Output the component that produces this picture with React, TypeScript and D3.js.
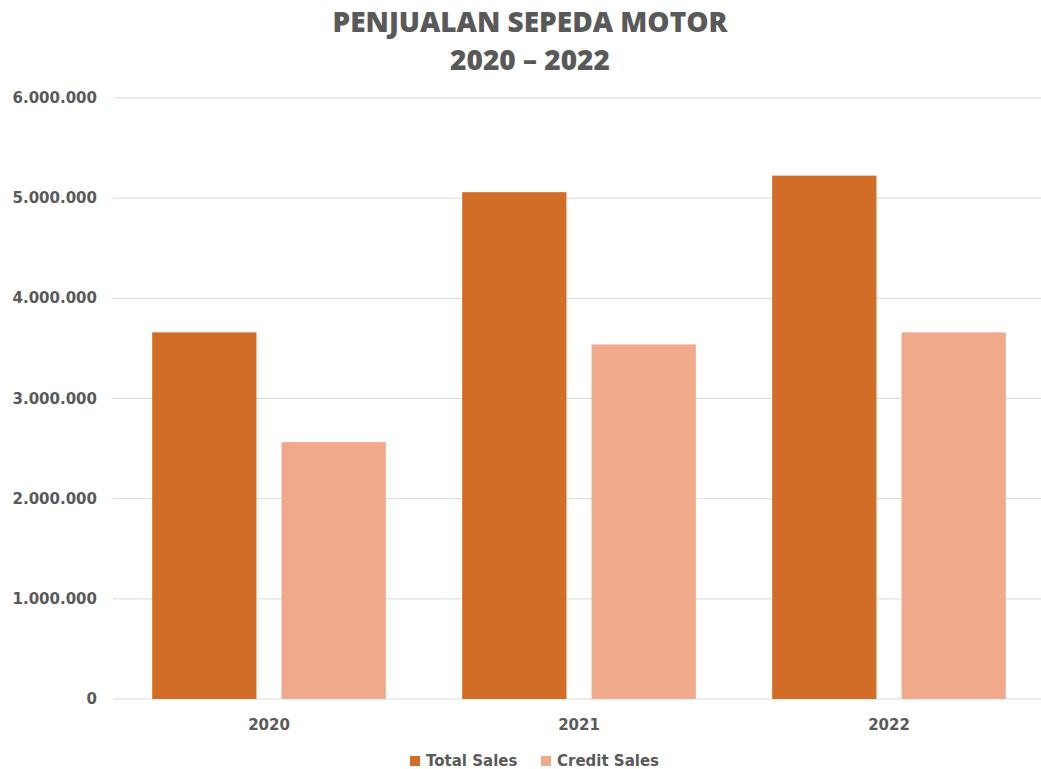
import React from "react";
import * as d3 from "d3";

const categories = ["2020", "2021", "2022"];
const seriesNames = ["Total Sales", "Credit Sales"];
const totalSales = [3660000, 5060000, 5225000];
const creditSales = [2565000, 3540000, 3660000];
const yTicks = [0, 1000000, 2000000, 3000000, 4000000, 5000000, 6000000];
const colors = ["#D26D28", "#F0A98B"];

const W = 1041;
const H = 769;
const margin = { left: 114, right: -3, top: 98, bottom: 70 };
const titleFont = "'Open Sans', 'DejaVu Sans', sans-serif";
const font = "'DejaVu Sans', sans-serif";
const textColor = "#595959";

export default function App() {
  const x0 = d3
    .scaleBand<string>()
    .domain(categories)
    .range([margin.left, W - margin.right])
    .paddingInner(0)
    .paddingOuter(0);
  const inner = d3
    .scaleBand<string>()
    .domain(seriesNames)
    .range([0, x0.bandwidth()])
    .paddingInner(0.194)
    .paddingOuter(0.295);
  const y = d3.scaleLinear().domain([0, 6000000]).range([H - margin.bottom, margin.top]);
  const fmt = (v: number) => d3.format(",")(v).replace(/,/g, ".");
  const data = [totalSales, creditSales];

  return (
    <svg width={W} height={H} style={{ position: "absolute", left: 0, top: 0, background: "#fff" }}>
      <text x={530} y={32} textAnchor="middle" fontFamily={titleFont} fontWeight={800} fontSize={28} fill={textColor}>
        PENJUALAN SEPEDA MOTOR
      </text>
      <text x={530} y={70} textAnchor="middle" fontFamily={titleFont} fontWeight={800} fontSize={28} fill={textColor}>
        2020 – 2022
      </text>
      {yTicks.map((t) => (
        <g key={t}>
          <line x1={113} x2={W} y1={y(t)} y2={y(t)} stroke="#D9D9D9" strokeWidth={1} />
          <text x={97} y={y(t) + 5} textAnchor="end" fontFamily={font} fontWeight={700} fontSize={15} fill={textColor}>
            {fmt(t)}
          </text>
        </g>
      ))}
      {categories.map((c, i) => (
        <g key={c}>
          {seriesNames.map((s, j) => (
            <rect
              key={s}
              x={(x0(c) as number) + (inner(s) as number)}
              y={y(data[j][i])}
              width={inner.bandwidth()}
              height={y(0) - y(data[j][i])}
              fill={colors[j]}
            />
          ))}
          <text
            x={(x0(c) as number) + x0.bandwidth() / 2}
            y={730}
            textAnchor="middle"
            fontFamily={font}
            fontWeight={700}
            fontSize={15}
            fill={textColor}
          >
            {c}
          </text>
        </g>
      ))}
      {seriesNames.map((s, j) => {
        const lx = [410, 541][j];
        return (
          <g key={s}>
            <rect x={lx} y={756} width={10} height={10} fill={colors[j]} />
            <text x={lx + 16} y={766} fontFamily={font} fontWeight={700} fontSize={15} fill={textColor}>
              {s}
            </text>
          </g>
        );
      })}
    </svg>
  );
}
